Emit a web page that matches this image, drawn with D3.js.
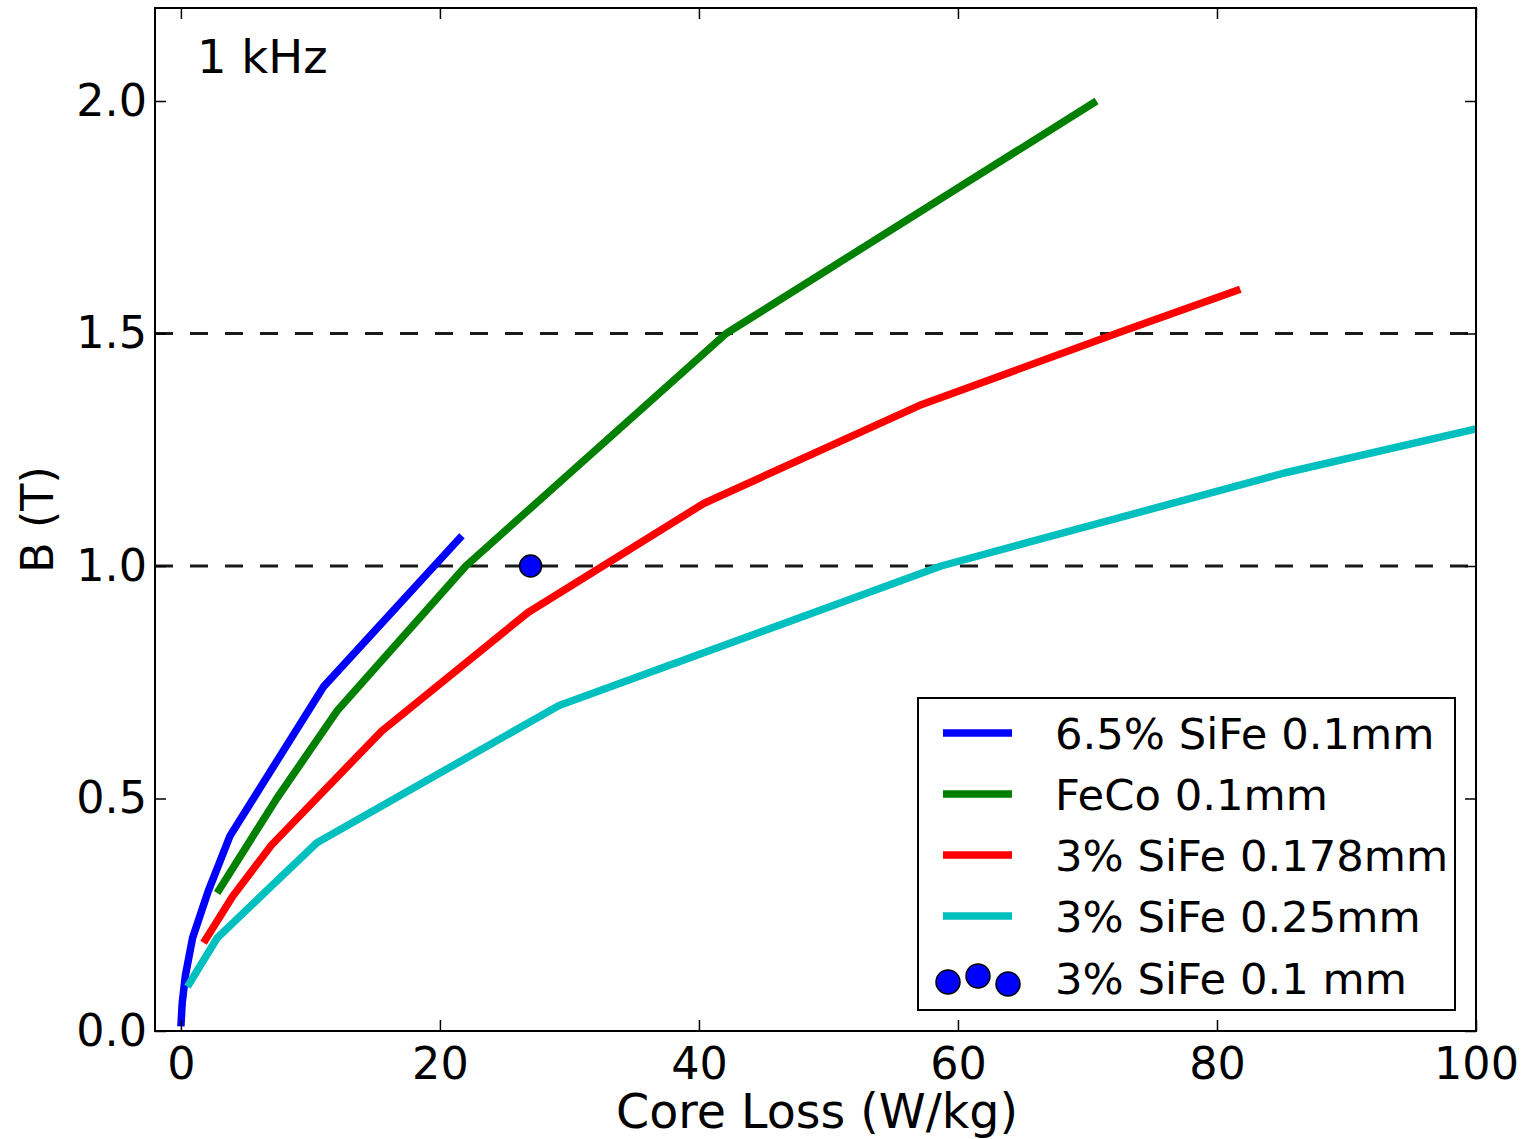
<!DOCTYPE html>
<html>
<head>
<meta charset="utf-8">
<script src="https://cdn.jsdelivr.net/npm/d3@7"></script>
<style>
  html, body { margin: 0; padding: 0; background: #fff; }
  svg { display: block; }
  text { font-family: "DejaVu Sans", sans-serif; fill: #000; }
</style>
</head>
<body>
<svg id="chart" width="1532" height="1139"></svg>
<script>
// Core loss (W/kg) vs. flux density B (T) at 1 kHz
const sife65_loss = [0.0, 0.1, 0.35, 0.9, 2.1, 3.8, 11.0, 21.7];
const sife65_B    = [0.01, 0.06, 0.12, 0.2, 0.3, 0.42, 0.74, 1.065];

const feco_loss = [2.8, 7.4, 12.1, 22.0, 42.1, 70.7];
const feco_B    = [0.297, 0.50, 0.69, 1.0, 1.5, 2.0];

const sife3_178_loss = [1.75, 4.0, 7.0, 15.5, 26.8, 40.4, 57.0, 72.7, 81.8];
const sife3_178_B    = [0.19, 0.29, 0.40, 0.645, 0.90, 1.135, 1.345, 1.505, 1.595];

const sife3_25_loss = [0.5, 2.8, 10.5, 29.2, 58.7, 85.2, 100.0];
const sife3_25_B    = [0.095, 0.20, 0.405, 0.70, 1.0, 1.20, 1.295];

const sife3_10_loss = [27.0];
const sife3_10_B    = [1.0];

const xTicks = [0, 20, 40, 60, 80, 100];
const yTicks = [0.0, 0.5, 1.0, 1.5, 2.0];
const refLevels = [1.0, 1.5];

const seriesNames = ["6.5% SiFe 0.1mm", "FeCo 0.1mm", "3% SiFe 0.178mm", "3% SiFe 0.25mm", "3% SiFe 0.1 mm"];
const seriesColors = ["#0000ff", "#008000", "#ff0000", "#00bfbf", "#0000ff"];

const zip = (xs, ys) => xs.map((x, i) => [x, ys[i]]);
const lineSeries = [
  zip(sife65_loss, sife65_B),
  zip(feco_loss, feco_B),
  zip(sife3_178_loss, sife3_178_B),
  zip(sife3_25_loss, sife3_25_B)
];
const dotSeries = zip(sife3_10_loss, sife3_10_B);

const L = 155, R = 1476, T = 8, B = 1031;
const x = d3.scaleLinear().domain([-2, 100]).range([L, R]);
const y = d3.scaleLinear().domain([0, 2.2]).range([B, T]);

const svg = d3.select("#chart");

svg.append("defs").append("clipPath").attr("id", "plotClip")
  .append("rect").attr("x", L).attr("y", T).attr("width", R - L).attr("height", B - T);

const plot = svg.append("g").attr("clip-path", "url(#plotClip)");

// dashed reference levels
plot.selectAll("line.ref").data(refLevels).enter().append("line")
  .attr("class", "ref")
  .attr("x1", L).attr("x2", R)
  .attr("y1", d => y(d)).attr("y2", d => y(d))
  .attr("stroke", "#1a1a1a").attr("stroke-width", 3)
  .attr("stroke-dasharray", "18,17");

const line = d3.line().x(d => x(d[0])).y(d => y(d[1]));

plot.selectAll("path.series").data(lineSeries).enter().append("path")
  .attr("class", "series")
  .attr("d", line)
  .attr("fill", "none")
  .attr("stroke", (d, i) => seriesColors[i])
  .attr("stroke-width", 7.5)
  .attr("stroke-linejoin", "round")
  .attr("stroke-linecap", "butt");

plot.selectAll("circle.pt").data(dotSeries).enter().append("circle")
  .attr("class", "pt")
  .attr("cx", d => x(d[0])).attr("cy", d => y(d[1]))
  .attr("r", 11)
  .attr("fill", seriesColors[4])
  .attr("stroke", "#000").attr("stroke-width", 1.5);

// frame
svg.append("rect").attr("x", L).attr("y", T).attr("width", R - L).attr("height", B - T)
  .attr("fill", "none").attr("stroke", "#000").attr("stroke-width", 2);

// axes with inward ticks on all four sides
const tickLen = 11;
const tickFont = 44.5;

const axB = d3.axisBottom(x).tickValues(xTicks).tickFormat(d3.format("d")).tickSize(-tickLen).tickPadding(16);
const axT = d3.axisTop(x).tickValues(xTicks).tickFormat("").tickSize(-tickLen);
const axL = d3.axisLeft(y).tickValues(yTicks).tickFormat(d3.format(".1f")).tickSize(-tickLen).tickPadding(8);
const axR = d3.axisRight(y).tickValues(yTicks).tickFormat("").tickSize(-tickLen);

function styleAxis(g) {
  g.select(".domain").remove();
  g.selectAll(".tick line").attr("stroke", "#000").attr("stroke-width", 1.5);
  g.selectAll("text").attr("font-size", tickFont).attr("font-family", "DejaVu Sans").attr("fill", "#000");
}

svg.append("g").attr("transform", `translate(0,${B})`).call(axB).call(styleAxis);
svg.append("g").attr("transform", `translate(0,${T})`).call(axT).call(styleAxis);
svg.append("g").attr("transform", `translate(${L},0)`).call(axL).call(styleAxis);
svg.append("g").attr("transform", `translate(${R},0)`).call(axR).call(styleAxis);

// axis titles
svg.append("text")
  .attr("x", 817).attr("y", 1128)
  .attr("text-anchor", "middle").attr("font-size", 47.5)
  .text("Core Loss (W/kg)");

svg.append("text")
  .attr("transform", `translate(53,${(T + B) / 2}) rotate(-90)`)
  .attr("text-anchor", "middle").attr("font-size", 44.5)
  .text("B (T)");

// frequency annotation
svg.append("text")
  .attr("x", 197).attr("y", 73)
  .attr("font-size", 46.5)
  .text("1 kHz");

// legend
const lg = svg.append("g");
const lgX = 918, lgY = 698, lgW = 537, lgH = 312;
lg.append("rect").attr("x", lgX).attr("y", lgY).attr("width", lgW).attr("height", lgH)
  .attr("fill", "#fff").attr("stroke", "#000").attr("stroke-width", 2);

const rowY = [733, 794, 855, 916, 978];
seriesNames.forEach((name, i) => {
  if (i < 4) {
    lg.append("line")
      .attr("x1", 943).attr("x2", 1012)
      .attr("y1", rowY[i]).attr("y2", rowY[i])
      .attr("stroke", seriesColors[i]).attr("stroke-width", 7.5);
  } else {
    const offs = [[948, 4], [978, -2], [1008, 6]];
    offs.forEach(o => {
      lg.append("circle").attr("cx", o[0]).attr("cy", rowY[i] + o[1]).attr("r", 12)
        .attr("fill", seriesColors[i]).attr("stroke", "#000").attr("stroke-width", 1.5);
    });
  }
  lg.append("text")
    .attr("x", 1055).attr("y", rowY[i] + 16)
    .attr("font-size", 43.3)
    .text(name);
});
</script>
</body>
</html>
